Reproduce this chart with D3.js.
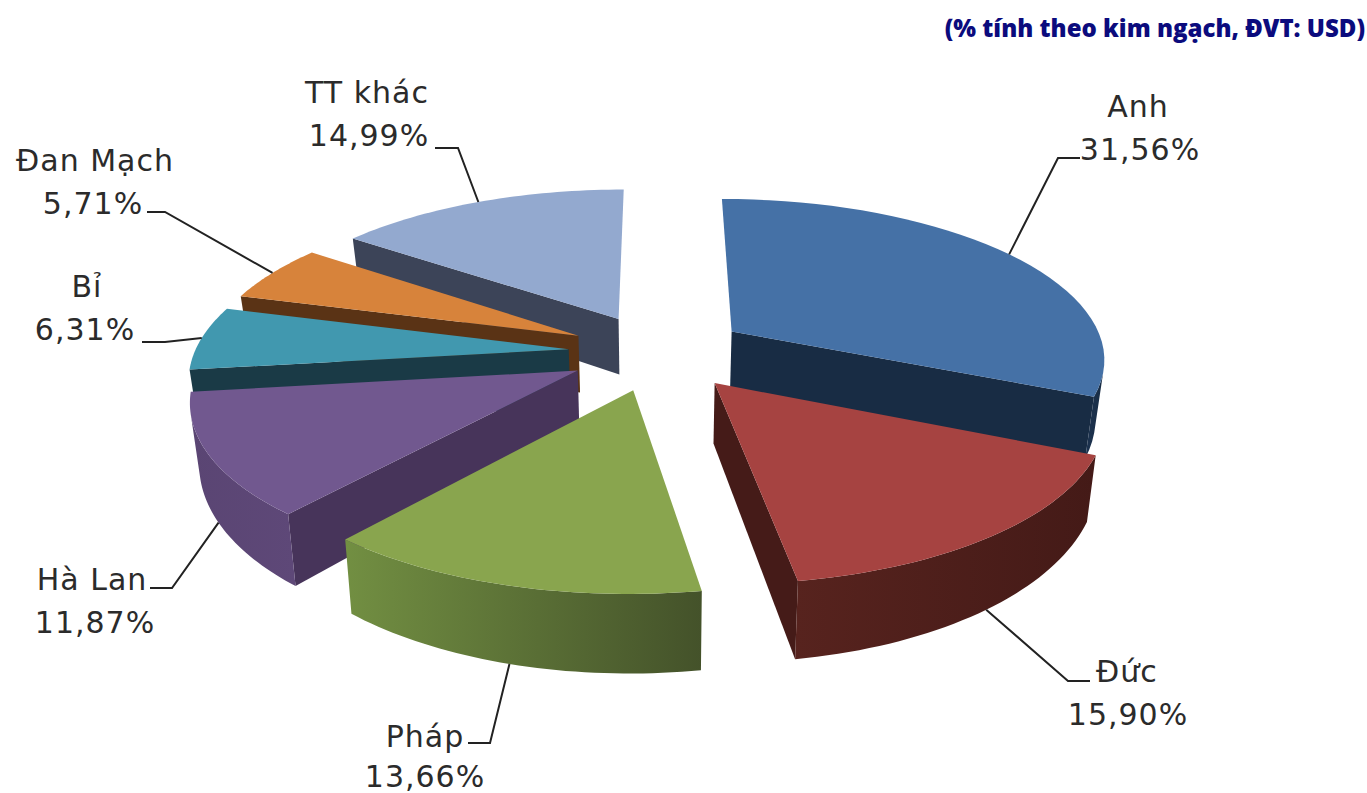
<!DOCTYPE html>
<html>
<head>
<meta charset="utf-8">
<script src="https://cdn.jsdelivr.net/npm/d3@7"></script>
<style>
html,body{margin:0;padding:0;background:#fff;}
svg{display:block;}
.lbl{font-family:"DejaVu Sans",sans-serif;font-size:30px;letter-spacing:1px;fill:#2b2b2b;text-anchor:middle;}
</style>
</head>
<body>
<svg id="chart" width="1367" height="793"></svg>
<script>
// data
var categories = ["Anh","Đức","Pháp","Hà Lan","Bỉ","Đan Mạch","TT khác"];
var shares = [31.56,15.90,13.66,11.87,6.31,5.71,14.99];
var shareLabels = ["31,56%","15,90%","13,66%","11,87%","6,31%","5,71%","14,99%"];
var titleText = "(% tính theo kim ngạch, ĐVT: USD)";

// colours, same order as categories
var topColors = ["#4571a6","#a64341","#89a54e","#71588f","#4198af","#d7833b","#93a9cf"];
var cutColors = ["#182c44","#451b18","#45532a","#47345a","#1a3a46","#5a3315","#3c4458"];
var rimLeft = ["#1d3350","#57231e","#728f42","#5a4573","#1a3a46","#5a3315","#3c4458"];
var rimRight = ["#182c44","#441a17","#44522a","#5e4878","#1a3a46","#5a3315","#3c4458"];

// label layout: name x,y / value x,y / elbow x,y / end of the horizontal run
var labelName = [[1138,117],[1127,682],[425,747],[92,590],[87,297],[95,171],[367,103]];
var labelValue = [[1140,160],[1128,725],[425,787],[95,633],[85,340],[93,214],[369,146]];
var elbow = [[1058,158],[1068,681],[490,743],[172,588],[165,342],[165,212],[458,148]];
var elbowEnd = [1080,1090,468,150,142,147,435];

// projection of the tilted pie
var cx = 658, cy = 352, rx = 374, ry = 159, persp = 0.155, depth = 58, explode = 0.24;
function project(x,y,z){
 var s = 1/(1-persp*y);
 var sz = 1/(1-0.22*y);
 return [cx+rx*x*s*(1-0.02*z), cy+ry*y*s+depth*z*sz];
}
var svg = d3.select("#chart");
var defs = svg.append("defs");
var line = d3.line();
function area(q){
 var a = 0;
 for (var i=0;i<q.length;i++){
  var n = q[(i+1)%q.length];
  a += q[i][0]*n[1]-n[0]*q[i][1];}
 return a;
}
var arcs = d3.pie().sort(null).value(function(d){return d;})(shares);
var order = d3.range(arcs.length).sort(function(a,b){
 var ma=(arcs[a].startAngle+arcs[a].endAngle)/2, mb=(arcs[b].startAngle+arcs[b].endAngle)/2;
 return d3.ascending(-Math.cos(ma),-Math.cos(mb));
});

order.forEach(function(i){
 var d = arcs[i];
 var mid = (d.startAngle+d.endAngle)/2;
 var ox = explode*Math.sin(mid), oy = -explode*Math.cos(mid);
 function pt(a,z){ return project(ox+Math.sin(a),oy-Math.cos(a),z); }
 var angles = d3.range(0,41).map(function(t){return d.startAngle+(d.endAngle-d.startAngle)*t/40;});
 var apexT = project(ox,oy,0), apexB = project(ox,oy,1);
 var topRim = angles.map(function(a){return pt(a,0);});
 var botRim = angles.map(function(a){return pt(a,1);});
 var g = svg.append("g");
 // the two cut faces, skip the ones seen almost edge on
 [[apexT,topRim[0],botRim[0],apexB],[topRim[40],apexT,apexB,botRim[40]]].forEach(function(q){
  if (area(q)<-3000) g.append("path").attr("d",line(q)+"Z").attr("fill",cutColors[i]);
 });
 // outer rim
 var vis = d3.range(0,40).filter(function(k){
  return area([topRim[k],topRim[k+1],botRim[k+1],botRim[k]])<0;
 });
 if (vis.length){
  var a0 = vis[0], a1 = vis[vis.length-1]+1;
  var poly = topRim.slice(a0,a1+1).concat(botRim.slice(a0,a1+1).reverse());
  var id = "rim"+i;
  var ext = d3.extent(poly,function(p){return p[0];});
  var grad = defs.append("linearGradient").attr("id",id).attr("gradientUnits","userSpaceOnUse")
   .attr("x1",ext[0]).attr("x2",ext[1]).attr("y1",0).attr("y2",0);
  grad.append("stop").attr("offset",0).attr("stop-color",rimLeft[i]);
  grad.append("stop").attr("offset",1).attr("stop-color",rimRight[i]);
  g.append("path").attr("d",line(poly)+"Z").attr("fill","url(#"+id+")");
 }
 // top face
 g.append("path").attr("d",line([apexT].concat(topRim))+"Z").attr("fill",topColors[i]);
});

// leaders and labels
arcs.forEach(function(d,i){
 var mid = (d.startAngle+d.endAngle)/2;
 var ox = explode*Math.sin(mid), oy = -explode*Math.cos(mid);
 var front = -Math.cos(mid)>0;
 var start = project(ox+Math.sin(mid),oy-Math.cos(mid),front?1:0);
 svg.append("path").attr("d",line([start,elbow[i],[elbowEnd[i],elbow[i][1]]]))
  .attr("fill","none").attr("stroke","#222").attr("stroke-width",2);
 svg.append("text").attr("class","lbl").attr("x",labelName[i][0]).attr("y",labelName[i][1]).text(categories[i]);
 svg.append("text").attr("class","lbl").attr("x",labelValue[i][0]).attr("y",labelValue[i][1]).text(shareLabels[i]);
});

svg.append("text").attr("x",1365).attr("y",37).attr("text-anchor","end")
 .style("font-family","'Open Sans',sans-serif").style("font-weight","800").style("font-size","24px")
 .attr("fill","#0b0b7d").text(titleText);
</script>
</body>
</html>
